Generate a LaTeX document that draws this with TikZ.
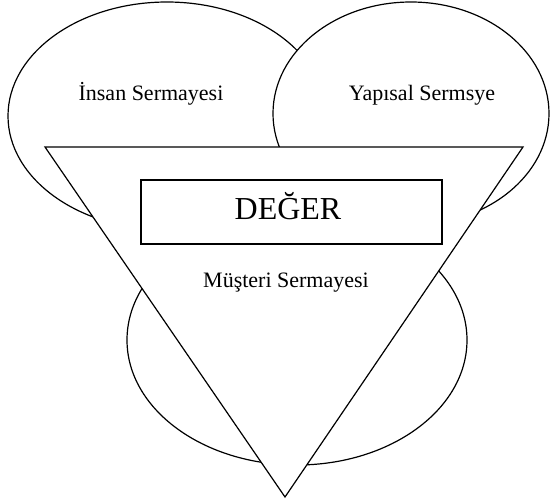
\documentclass[tikz,border=0pt]{standalone}
\usepackage{fontspec}
\setmainfont{Liberation Serif}
\usetikzlibrary{shapes.geometric}
\begin{document}
\begin{tikzpicture}[x=1pt,y=-1pt,
  outline/.style={draw=black,line width=1.2pt,fill=white},
  oval/.style={outline,ellipse,inner sep=0pt},
  lbl/.style={anchor=base,inner sep=0pt,font=\fontsize{22}{26}\selectfont},
  valbox/.style={outline,rectangle,inner sep=0pt,minimum width=301pt,minimum height=64pt},
  big/.style={anchor=base,inner sep=0pt,font=\fontsize{32}{38}\selectfont}]
\useasboundingbox (0,0) rectangle (550,504);
\node[oval,minimum width=318pt,minimum height=228pt] (human) at (167,116) {};
\node[oval,minimum width=276pt,minimum height=223pt] (struct) at (411,113.5) {};
\node[oval,minimum width=340pt,minimum height=250pt] (cust) at (297,340) {};
\coordinate (tl) at (45,147);
\coordinate (tr) at (523,147);
\coordinate (ap) at (285,497);
\draw[outline,line join=miter] (tl) -- (tr) -- (ap) -- cycle;
\node[valbox] (box) at (291.5,212) {};
\node[big] (deger) at (288,219) {DEĞER};
\node[lbl] (t1) at (151,100) {İnsan Sermayesi};
\node[lbl] (t2) at (422,100) {Yapısal Sermsye};
\node[lbl] (t3) at (286,287) {Müşteri Sermayesi};
\end{tikzpicture}
\end{document}
